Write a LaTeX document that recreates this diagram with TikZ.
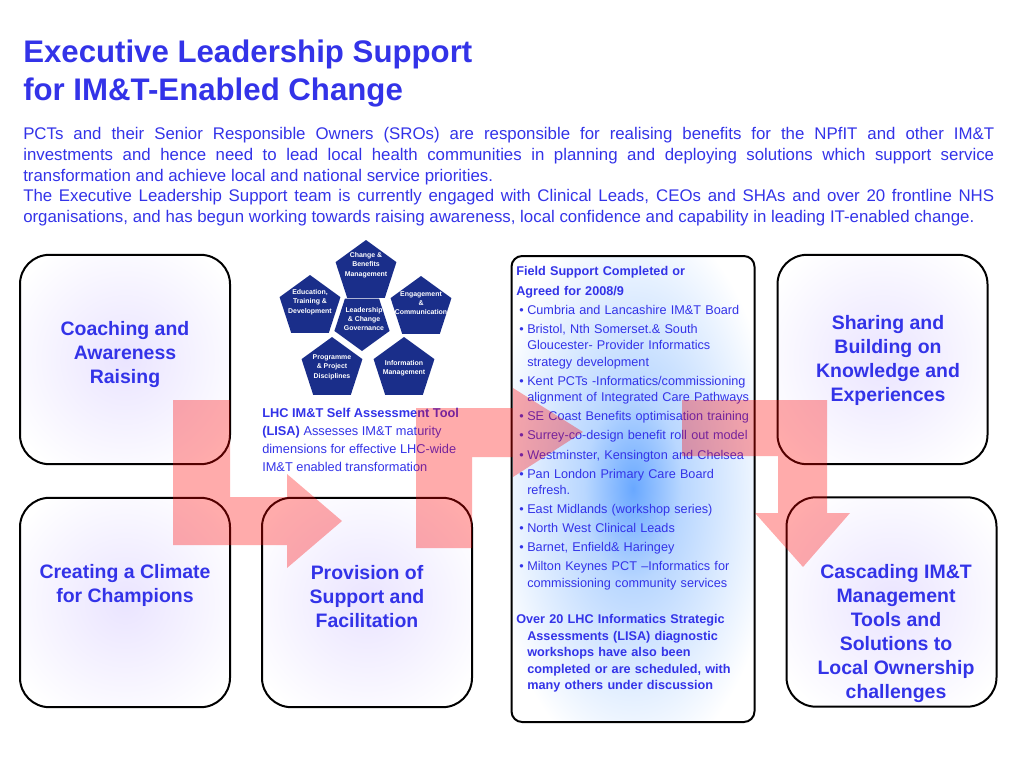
\documentclass[tikz,border=0pt]{standalone}
\usepackage{fontspec}
\setmainfont{Liberation Sans}
\usetikzlibrary{shapes.geometric}
\definecolor{imtblue}{RGB}{51,51,232}
\definecolor{pentnavy}{RGB}{26,46,138}
\definecolor{lilacglow}{RGB}{234,228,255}
\definecolor{fieldglow}{RGB}{105,168,255}
\definecolor{fieldmid}{RGB}{185,215,255}
\pgfdeclareradialshading{areaglow}{\pgfpoint{0bp}{0bp}}{color(0bp)=(lilacglow); color(31bp)=(white); color(50bp)=(white)}
\pgfdeclareradialshading{fieldshade}{\pgfpoint{0bp}{0bp}}{color(0bp)=(fieldglow); color(10bp)=(fieldmid); color(30bp)=(white); color(50bp)=(white)}
% bullet of the field support list
\newcommand{\fielditem}[1]{\par\noindent\hangindent=8.25pt\hangafter=1\makebox[8.25pt][l]{\hspace{2.25pt}\textbullet}#1}
\tikzset{areabox/.style={draw=black, line width=1.5pt, rounded corners=22pt, shading=areaglow,
                         minimum width=157.5pt, minimum height=157pt, inner sep=0pt}}
\tikzset{fieldbox/.style={draw=black, line width=1.5pt, rounded corners=8pt, shading=fieldshade,
                          minimum width=182.25pt, minimum height=349.5pt, inner sep=0pt}}
\tikzset{arealabel/.style={font=\fontsize{14.6}{18}\selectfont\bfseries, text=imtblue, align=center, inner sep=0pt}}
\tikzset{pent/.style={regular polygon, regular polygon sides=5, fill=pentnavy, minimum size=48pt, inner sep=0pt}}
\tikzset{pentlabel/.style={font=\fontsize{5.2}{7}\selectfont\bfseries, text=white, align=center, inner sep=0pt}}
\tikzset{flowarrow/.style={fill=red, fill opacity=0.33, draw=none}}

\begin{document}
\begin{tikzpicture}[x=0.75pt, y=-0.75pt]
    \useasboundingbox (0,0) rectangle (1024,768);

    % title and intro
    \node[anchor=north west, inner sep=0pt, align=left, text=imtblue, font=\fontsize{23.4}{28.5}\selectfont\bfseries]
        (title) at (23,40) {Executive Leadership Support\\for IM\&T-Enabled Change};
    \node[anchor=north west, inner sep=0pt, text width=728.25pt, align=justify, text=imtblue, font=\fontsize{12.63}{15.4}\selectfont]
        (intro) at (23,127.5) {%
        PCTs and their Senior Responsible Owners (SROs) are responsible for realising benefits for the NPfIT and other IM\&T\linebreak
        investments and hence need to lead local health communities in planning and deploying solutions which support service\linebreak
        transformation and achieve local and national service priorities.\par
        The Executive Leadership Support team is currently engaged with Clinical Leads, CEOs and SHAs and over 20 frontline NHS\linebreak
        organisations, and has begun working towards raising awareness, local confidence and capability in leading IT-enabled change.\par};

    % the five areas
    \node[areabox] (coach) at (125,359.5) {};
    \node[areabox] (climate) at (125,602.5) {};
    \node[areabox] (provision) at (367,602.5) {};
    \node[areabox] (sharing) at (882.5,359.5) {};
    \node[areabox] (cascade) at (891.5,602) {};
    \node[fieldbox] (field) at (633,489) {};

    \node[arealabel] (coachtxt) at (125,355) {Coaching and\\Awareness\\Raising};
    \node[arealabel] (climatetxt) at (125,585) {Creating a Climate\\for Champions};
    \node[arealabel] (provisiontxt) at (367,597) {Provision of\\Support and\\Facilitation};
    \node[arealabel] (sharingtxt) at (888,360) {Sharing and\\Building on\\Knowledge and\\Experiences};
    \node[arealabel] (cascadetxt) at (896,633) {Cascading IM\&T\\Management\\Tools and\\Solutions to\\Local Ownership\\challenges};

    % LISA pentagons
    \node[pent] (chg) at (366,272) {};
    \node[pent] (edu) at (310,307) {};
    \node[pent] (eng) at (421,308) {};
    \node[pent, shape border rotate=180, minimum size=43.5pt] (lead) at (362,322) {};
    \node[pent] (prog) at (332,369) {};
    \node[pent] (info) at (404,369) {};
    \node[pentlabel] at (366,265) {Change \&\\Benefits\\Management};
    \node[pentlabel] at (310,302) {Education,\\Training \&\\Development};
    \node[pentlabel] at (421,303) {Engagement\\\&\\Communication};
    \node[pentlabel] at (364,319) {Leadership\\\& Change\\Governance};
    \node[pentlabel] at (332,367) {Programme\\\& Project\\Disciplines};
    \node[pentlabel] at (404,368) {Information\\Management};

    \node[anchor=north west, inner sep=0pt, align=left, text=imtblue, font=\fontsize{9.6}{13.5}\selectfont]
        (lisa) at (262,408) {\textbf{LHC IM\&T Self Assessment Tool}\\\textbf{(LISA)} Assesses IM\&T maturity\\dimensions for effective LHC-wide\\IM\&T enabled transformation};

    % field support list
    \node[anchor=north west, inner sep=0pt, text width=180pt, align=left, text=imtblue, font=\fontsize{9.5}{12.4}\selectfont]
        (fieldtxt) at (516,266.5) {\setlength{\parskip}{1.9pt}%
        \noindent\textbf{Field Support Completed or}\par
        \noindent\textbf{Agreed for 2008/9}%
        \fielditem{Cumbria and Lancashire IM\&T Board}%
        \fielditem{Bristol, Nth Somerset.\& South\newline Gloucester- Provider Informatics\newline strategy development}%
        \fielditem{Kent PCTs -Informatics/commissioning\newline alignment of Integrated Care Pathways}%
        \fielditem{SE Coast Benefits optimisation training}%
        \fielditem{Surrey-co-design benefit roll out model}%
        \fielditem{Westminster, Kensington and Chelsea}%
        \fielditem{Pan London Primary Care Board\newline refresh.}%
        \fielditem{East Midlands (workshop series)}%
        \fielditem{North West Clinical Leads}%
        \fielditem{Barnet, Enfield\& Haringey}%
        \fielditem{Milton Keynes PCT --Informatics for\newline commissioning community services}\par
        \vspace{12.75pt}%
        \noindent\hangindent=8.25pt\hangafter=1\textbf{Over 20 LHC Informatics Strategic\newline Assessments (LISA) diagnostic\newline
        workshops have also been\newline completed or are scheduled, with\newline many others under discussion}\par};

    % flow arrows
    \fill[flowarrow] (173,400) -- (230,400) -- (230,497) -- (287,497) -- (287,474) -- (342,521)
        -- (287,568) -- (287,545) -- (173,545) -- cycle;
    \fill[flowarrow] (416,548) -- (416,408) -- (513,408) -- (513,388) -- (583,432)
        -- (513,477) -- (513,457) -- (472,457) -- (472,548) -- cycle;
    \fill[flowarrow] (682,400) -- (827,400) -- (827,513) -- (850,513) -- (803,567)
        -- (755,513) -- (778,513) -- (778,456) -- (682,456) -- cycle;
\end{tikzpicture}
\end{document}
